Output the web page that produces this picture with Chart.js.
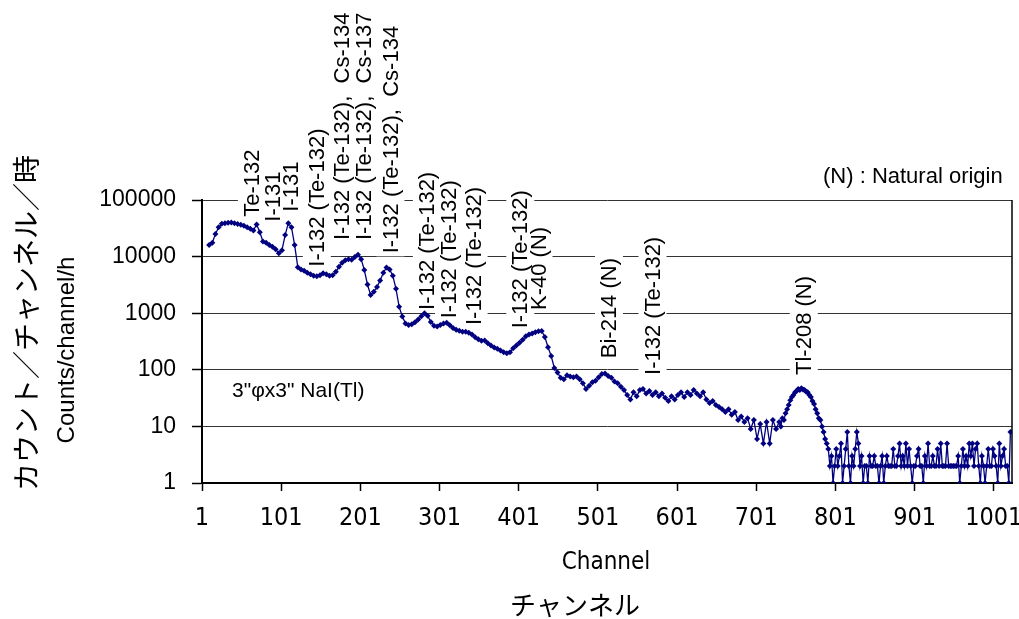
<!DOCTYPE html>
<html>
<head>
<meta charset="utf-8">
<script src="https://cdn.jsdelivr.net/npm/chart.js@4/dist/chart.umd.min.js"></script>
<style>
  html, body { margin: 0; padding: 0; background: #fff; }
  canvas { display: block; }
</style>
</head>
<body>
<canvas id="spectrum" width="1019" height="619"></canvas>
<script>
// Gamma-ray spectrum, 3"x3" NaI(Tl) detector, 1024-channel analyser.

// channels 10 .. 246, every 4th channel
const countsLow = [
  16000, 17500, 25000, 33000, 38000, 39000, 39500, 40000, 39000, 37500,
  36500, 35000, 33000, 31000, 29000, 37000, 27000, 18500, 17500, 16000,
  15000, 13500, 11500, 13000, 24000, 39000, 33000, 16000, 6500, 5900,
  5600, 5200, 4900, 4600, 4500, 4700, 5100, 4900, 4600, 4700,
  5400, 6600, 7800, 8600, 9000, 8800, 9800, 10800, 9000, 5800,
  3200, 2100, 2400, 2900, 3800, 5200, 6400, 5900, 4600, 2700
];
// channels 250 .. 486, every 4th channel
const countsMid = [
  1300, 870, 660, 620, 640, 690, 770, 880, 1000, 900,
  700, 600, 580, 620, 660, 680, 610, 550, 510, 490,
  470, 470, 450, 420, 375, 345, 325, 330, 295, 270,
  248, 235, 220, 205, 196, 205, 240, 270, 300, 340,
  390, 420, 440, 460, 480, 485, 380, 250, 175, 108,
  90, 72, 68, 80, 76, 74, 76, 68, 58, 46
];
// channels 490 .. 726, every 4th channel
const countsHigh = [
  52, 60, 64, 74, 84, 86, 78, 72, 62, 58,
  50, 44, 36, 30, 40, 34, 44, 46, 38, 42,
  36, 40, 34, 38, 32, 28, 34, 30, 36, 40,
  33, 40, 36, 44, 38, 34, 40, 30, 26, 28,
  24, 22, 20, 18, 20, 16, 18, 13, 15, 12,
  14, 9, 13, 6, 11, 5, 12, 5, 13, 9
];
// channels 730 .. 1022, every 2nd channel
const countsTail = [
  12, 10, 14, 13, 17, 20, 24, 29, 33, 36,
  40, 42, 46, 44, 47, 45, 44, 41, 40, 36,
  33, 28, 25, 20, 17, 14, 13, 10, 8, 6,
  5, 4,
  2, 3, 1, 2, 4, 2, 3, 5, 1, 2,
  4, 8, 2, 1, 3, 2, 4, 8, 5, 2,
  3, 1, 2, 2, 1, 3, 2, 2, 3, 2,
  2, 1, 2, 3, 1, 2, 3, 2, 2, 2,
  4, 2, 2, 3, 5, 2, 3, 2, 5, 2,
  4, 2, 1, 2, 2, 3, 4, 2, 2, 1,
  3, 2, 5, 2, 2, 3, 2, 2, 4, 2,
  5, 2, 2, 2, 5, 2, 2, 2, 2, 2,
  2, 3, 1, 2, 4, 2, 3, 2, 5, 3,
  5, 2, 4, 5, 2, 1, 3, 2, 1, 2,
  4, 2, 2, 4, 3, 2, 1, 5, 2, 3,
  4, 2, 2, 1, 8
];

const segmentCounts = [countsLow, countsMid, countsHigh, countsTail];
const segmentFirstChannel = [10, 250, 490, 730];
const segmentChannelStep = [4, 4, 4, 2];

const channelTicks = [1, 101, 201, 301, 401, 501, 601, 701, 801, 901, 1001];
const countTicks = [1, 10, 100, 1000, 10000, 100000];

// Peak identifications
const peakNames = [
  'Te-132', 'I-131', 'I-131', 'I-132 (Te-132)',
  'I-132 (Te-132),  Cs-134', 'I-132 (Te-132),  Cs-137', 'I-132 (Te-132),  Cs-134',
  'I-132 (Te-132)', 'I-132 (Te-132)', 'I-132 (Te-132)', 'I-132 (Te-132)',
  'K-40 (N)', 'Bi-214 (N)', 'I-132 (Te-132)', 'Tl-208 (N)'
];
// where each label stands: channel of the peak and the count level of the label foot
const peakLabelChannel = [64, 90, 113, 146, 178, 205, 239, 285, 313, 344, 403, 426, 515, 570, 761];
const peakLabelFoot = [50700, 41400, 62100, 6630, 19650, 19650, 11430, 1140, 813, 619, 541, 1140, 160, 81, 81];

const SANS = '"Liberation Sans", Arial, sans-serif';
const NARROW = '"Liberation Sans Narrow", "DejaVu Sans Condensed", "Liberation Sans", sans-serif';
const CJK = '"Noto Sans CJK JP", sans-serif';

const points = [];
segmentCounts.forEach((seg, s) => {
  seg.forEach((v, i) => {
    points.push({ x: segmentFirstChannel[s] + i * segmentChannelStep[s], y: v });
  });
});

const textPlugin = {
  id: 'spectrumText',
  beforeDatasetsDraw(chart) {
    const { ctx, scales } = chart;
    const size = 22;
    ctx.save();
    ctx.font = size + 'px ' + SANS;
    const placed = peakNames.map((name, i) => ({
      name,
      x: scales.x.getPixelForValue(peakLabelChannel[i]),
      y: scales.y.getPixelForValue(peakLabelFoot[i]),
      w: ctx.measureText(name).width
    }));
    // white label backgrounds break the grid lines
    ctx.fillStyle = '#fff';
    placed.forEach(p => {
      ctx.fillRect(p.x - size / 2 - 3, p.y - p.w - 3, size + 6, p.w + 6);
    });
    ctx.fillStyle = '#000';
    ctx.textAlign = 'left';
    ctx.textBaseline = 'middle';
    placed.forEach(p => {
      ctx.save();
      ctx.translate(p.x, p.y);
      ctx.rotate(-Math.PI / 2);
      ctx.fillText(p.name, 0, 1);
      ctx.restore();
    });
    ctx.restore();
  },
  afterDraw(chart) {
    const { ctx, chartArea } = chart;
    ctx.save();
    // right frame of the plot area
    ctx.strokeStyle = '#000';
    ctx.lineWidth = 1.5;
    ctx.beginPath();
    ctx.moveTo(chartArea.right, chartArea.top);
    ctx.lineTo(chartArea.right, chartArea.bottom);
    ctx.stroke();

    ctx.fillStyle = '#000';
    ctx.textBaseline = 'middle';

    ctx.font = '22px ' + SANS;
    ctx.textAlign = 'left';
    ctx.fillText('(N) : Natural origin', 823, 177);
    ctx.font = '21px ' + SANS;
    ctx.fillText('3"\u03c6x3" NaI(Tl)', 232, 391);

    ctx.textAlign = 'center';
    ctx.font = '24px ' + NARROW;
    ctx.fillText('Channel', 606, 563);
    ctx.font = '26px ' + CJK;
    ctx.fillText('チャンネル', 575, 605);

    ctx.save();
    ctx.translate(67, 350);
    ctx.rotate(-Math.PI / 2);
    ctx.font = '24px ' + SANS;
    ctx.fillText('Counts/channel/h', 0, 0);
    ctx.restore();

    ctx.save();
    ctx.translate(26, 323);
    ctx.rotate(-Math.PI / 2);
    ctx.font = '28px ' + CJK;
    ctx.fillText('カウント／チャンネル／時', 0, 0);
    ctx.restore();
    ctx.restore();
  }
};

new Chart(document.getElementById('spectrum'), {
  type: 'line',
  data: {
    datasets: [{
      data: points,
      borderColor: '#000080',
      backgroundColor: '#000080',
      borderWidth: 1.3,
      pointStyle: 'rectRot',
      pointRadius: 3,
      pointBorderWidth: 0,
      tension: 0
    }]
  },
  options: {
    responsive: false,
    animation: false,
    events: [],
    layout: { padding: { top: 200, right: 7, left: 0, bottom: 0 } },
    plugins: { legend: { display: false }, tooltip: { enabled: false } },
    scales: {
      x: {
        type: 'linear',
        min: 1,
        max: 1024,
        afterBuildTicks: s => { s.ticks = channelTicks.map(v => ({ value: v })); },
        afterFit: s => { s.height = 136; s.paddingLeft = 0; s.paddingRight = 0; },
        ticks: {
          autoSkip: false, maxRotation: 0, color: '#000', padding: 12,
          font: { family: NARROW, size: 25 },
          callback: v => String(v)
        },
        grid: { drawOnChartArea: false, drawTicks: true, tickLength: 8, tickColor: '#000', tickWidth: 1.5 },
        border: { color: '#000', width: 2 }
      },
      y: {
        type: 'logarithmic',
        min: 1,
        max: 100000,
        afterBuildTicks: s => { s.ticks = countTicks.map(v => ({ value: v })); },
        afterFit: s => { s.width = 202; s.paddingTop = 0; s.paddingBottom = 0; },
        ticks: {
          color: '#000', padding: 16,
          font: { family: SANS, size: 23 },
          callback: v => String(v)
        },
        grid: { color: '#333', lineWidth: 1, tickLength: 10, tickColor: '#000', tickWidth: 1.5 },
        border: { color: '#000', width: 2 }
      }
    }
  },
  plugins: [textPlugin]
});
</script>
</body>
</html>
